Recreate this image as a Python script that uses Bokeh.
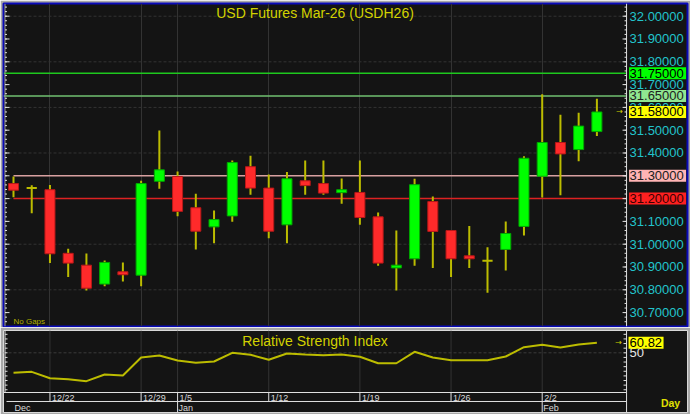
import numpy as np
from bokeh.plotting import figure
from bokeh.models import Range1d, FixedTicker, Label
from bokeh.layouts import column
from bokeh.embed import file_html
from bokeh.resources import INLINE
from bokeh.core.properties import value

# ---------------- data ----------------
chart_title = "USD Futures Mar-26 (USDH26)"
rsi_title = "Relative Strength Index"

opens = [31.266, 31.246, 31.239, 30.960, 30.908, 30.825, 30.879, 30.864, 31.276, 31.297,
         31.160, 31.076, 31.124, 31.340, 31.246, 31.085, 31.278, 31.266, 31.226, 31.227,
         31.120, 30.896, 30.936, 31.187, 31.060, 30.949, 30.927, 30.977, 31.078, 31.298,
         31.446, 31.415, 31.494]
highs = [31.297, 31.259, 31.260, 30.980, 30.959, 30.929, 30.920, 31.278, 31.499, 31.319,
         31.221, 31.148, 31.367, 31.388, 31.306, 31.317, 31.367, 31.367, 31.288, 31.367,
         31.139, 31.060, 31.287, 31.209, 31.060, 31.080, 30.987, 31.100, 31.386, 31.658,
         31.568, 31.577, 31.638]
lows = [31.206, 31.136, 30.917, 30.856, 30.797, 30.816, 30.836, 30.816, 31.243, 31.123,
        30.977, 31.004, 31.098, 31.217, 31.026, 31.004, 31.217, 31.217, 31.177, 31.085,
        30.905, 30.797, 30.905, 30.896, 30.856, 30.896, 30.787, 30.885, 31.038, 31.205,
        31.215, 31.364, 31.475]
closes = [31.237, 31.246, 30.958, 30.917, 30.807, 30.920, 30.866, 31.266, 31.326, 31.144,
          31.057, 31.108, 31.358, 31.246, 31.057, 31.287, 31.257, 31.224, 31.239, 31.117,
          30.917, 30.908, 31.261, 31.056, 30.936, 30.936, 30.927, 31.047, 31.377, 31.446,
          31.396, 31.518, 31.580]
rsi = [28.4, 29.4, 22.5, 21.4, 19.3, 26.5, 25.4, 44.9, 47.1, 41.7, 39.2, 40.6, 50.0,
       47.8, 42.4, 49.2, 48.2, 47.4, 48.2, 45.7, 38.7, 38.7, 51.1, 44.9, 42.0, 42.0,
       42.0, 46.0, 56.1, 58.7, 55.7, 59.0, 60.82]

week_labels = ["12/22", "12/29", "1/5", "1/12", "1/19", "1/26", "2/2"]
week_pos = [2, 7, 9, 14, 19, 24, 29]
month_labels = ["Dec", "Jan", "Feb"]
month_pos = [0, 9, 29]

level_prices = [31.75, 31.65, 31.30, 31.20]
level_from = [None, None, 0, 0]

rsi_major = [50]
rsi_minor_step = 5
price_major_step = 0.1
price_minor_step = 0.02
price_grid_step = 0.2

# ---------------- style / layout ----------------
FONT = "Liberation Sans"
BG = "#141414"
EDGE = "#a8a8a8"
BLUE = "#0a0ab8"
WICK = "#bcbc00"
UP, UP_EDGE = "#00ff00", "#00a800"
DN, DN_EDGE = "#ff2a2a", "#b81818"
YEL = "#d2d200"
CYAN = "#22c4cc"
TICK = "#e0e0e0"
GRID = "#333333"
level_line_col = ["#1ec81e", "#70c070", "#d8a0a0", "#dd2222"]
level_box_col = ["#00ff00", "#90e690", "#ffb4b4", "#ff2020"]
level_txt_col = ["#000000", "#202020", "#202020", "#3a0000"]

W, H_MAIN, H_RSI = 690, 327, 87
FRAME_W = W - 3 - 3
X0, XF = -0.5486, 36.97           # data x at frame left / right
X1 = 33.627                       # data x of the price axis line
PPX = FRAME_W / (XF - X0)         # pixels per candle slot


def dx(px):
    return px / PPX


P0, P1 = 30.639, 32.0557
R0, R1 = -14.61, 74.13
RSI_FLOOR, ROW_SPLIT = 7.03, -2.7
WEEK_TXT_Y, MONTH_TXT_Y, DAY_Y, RSI_TITLE_Y = 1.6, -9.3, -3.8, 63.3

o = np.array(opens); h = np.array(highs); l = np.array(lows); c = np.array(closes)
idx = np.arange(len(c))
up = c > o
dn = c < o
dj = c == o

xr = Range1d(X0, XF)

# ---------------- main price panel ----------------
p = figure(width=W, height=H_MAIN, x_range=xr, y_range=Range1d(P0, P1),
           output_backend="svg", toolbar_location=None,
           x_axis_location=None, y_axis_location=None,
           min_border_left=3, min_border_right=3, min_border_top=3, min_border_bottom=1,
           background_fill_color=BG, border_fill_color=EDGE,
           outline_line_color=BLUE, outline_line_width=2)
p.xgrid.ticker = FixedTicker(ticks=week_pos)
p.xgrid.grid_line_color = GRID
p.ygrid.visible = False

ticks_major = np.round(np.arange(30.7, 32.0001, price_major_step), 2)
ticks_minor = np.round(np.arange(30.66, 32.05, price_minor_step), 2)
grid_y = np.round(np.arange(30.8, 32.0001, price_grid_step), 2)

p.segment(x0=X0, y0=grid_y, x1=X1, y1=grid_y, line_color=GRID, line_dash="3 2")

# level lines
for pr, start, col in zip(level_prices, level_from, level_line_col):
    x_start = X0 if start is None else start
    p.segment(x0=[x_start], y0=[pr], x1=[X1], y1=[pr], line_color=col, line_width=1.5)

# candles
p.segment(x0=idx, y0=h, x1=idx, y1=l, line_color=WICK, line_width=2)
p.vbar(x=idx[up], width=0.55, top=c[up], bottom=o[up], fill_color=UP, line_color=UP_EDGE)
p.vbar(x=idx[dn], width=0.55, top=o[dn], bottom=c[dn], fill_color=DN, line_color=DN_EDGE)
p.segment(x0=idx[dj] - 0.28, y0=o[dj], x1=idx[dj] + 0.28, y1=o[dj], line_color=WICK, line_width=2)

# axes drawn inside the frame (left ticks, right ticks + labels)
p.segment(x0=X0 + dx(1.5), y0=P0, x1=X0 + dx(1.5), y1=P1, line_color="#9a9a9a")
p.segment(x0=X0 + dx(1.5), y0=ticks_minor, x1=X0 + dx(3.5), y1=ticks_minor, line_color=TICK)
p.segment(x0=X0 + dx(1.5), y0=ticks_major, x1=X0 + dx(6), y1=ticks_major, line_color=TICK)
p.segment(x0=X1, y0=P0, x1=X1, y1=P1, line_color=TICK)
p.segment(x0=X1 - dx(2), y0=ticks_minor, x1=X1, y1=ticks_minor, line_color=TICK)
p.segment(x0=X1 - dx(4), y0=ticks_major, x1=X1, y1=ticks_major, line_color=TICK)
p.text(x=X1, y=ticks_major, text=[f"{t:.5f}" for t in ticks_major], x_offset=3,
       text_align="left", text_baseline="middle", text_font=value(FONT),
       text_font_size=value("13px"), text_color=CYAN)

# coloured price boxes
box_prices = level_prices + [closes[-1]]
box_cols = level_box_col + ["#ffff00"]
box_txt = level_txt_col + ["#000000"]
p.rect(x=X1 + dx(31), y=box_prices, width=57, height=12, width_units="screen",
       height_units="screen", fill_color=box_cols, line_color=None)
p.text(x=X1, y=box_prices, text=[f"{v:.5f}" for v in box_prices], x_offset=3,
       text_align="left", text_baseline="middle", text_font=value(FONT),
       text_font_size=value("13px"), text_color=box_txt)
p.text(x=X1 - dx(7), y=[closes[-1]], text=["\u2192"], text_align="center",
       text_baseline="middle", text_font=value("DejaVu Sans"), text_font_size=value("8px"),
       text_color=YEL)

p.add_layout(Label(x=(X0 + X1) / 2, y=32.016, text=chart_title,
                   text_align="center", text_baseline="middle", text_font=FONT,
                   text_font_size="14px", text_color=YEL))
p.add_layout(Label(x=X0 + dx(10), y=P0 + 0.004, text="No Gaps", text_align="left",
                   text_baseline="bottom", text_font=FONT, text_font_size="8px",
                   text_color="#b0b000"))

# ---------------- RSI panel ----------------
q = figure(width=W, height=H_RSI, x_range=xr, y_range=Range1d(R0, R1),
           output_backend="svg", toolbar_location=None,
           x_axis_location=None, y_axis_location=None,
           min_border_left=3, min_border_right=3, min_border_top=3, min_border_bottom=2,
           background_fill_color=BG, border_fill_color=EDGE,
           outline_line_color="#d8d8d8", outline_line_width=1)
q.xgrid.visible = False
q.ygrid.visible = False

rsi_minor = np.arange(10, 71, rsi_minor_step)

q.segment(x0=week_pos, y0=RSI_FLOOR, x1=week_pos, y1=R1, line_color=GRID)
q.segment(x0=[X0], y0=rsi_major, x1=[X1], y1=rsi_major, line_color="#3a3a3a", line_dash="3 2")

q.line(idx, rsi, line_color=WICK, line_width=2)

# RSI axes
q.segment(x0=X0 + dx(1.5), y0=RSI_FLOOR, x1=X0 + dx(1.5), y1=R1, line_color=TICK)
q.segment(x0=X0 + dx(1.5), y0=rsi_minor, x1=X0 + dx(4), y1=rsi_minor, line_color=TICK)
q.segment(x0=X1, y0=R0, x1=X1, y1=R1, line_color=TICK)
q.segment(x0=X1 - dx(3), y0=rsi_minor, x1=X1, y1=rsi_minor, line_color=TICK)
q.text(x=X1, y=rsi_major, text=[str(v) for v in rsi_major], x_offset=3, text_align="left",
       text_baseline="middle", text_font=value(FONT), text_font_size=value("13px"),
       text_color="#e8e8e8")
q.rect(x=X1 + dx(19.5), y=[rsi[-1]], width=35, height=12, width_units="screen",
       height_units="screen", fill_color="#ffff00", line_color=None)
q.text(x=X1, y=[rsi[-1]], text=[f"{rsi[-1]:.2f}"], x_offset=3, text_align="left",
       text_baseline="middle", text_font=value(FONT), text_font_size=value("13px"),
       text_color="#000000")
q.text(x=X1 - dx(8), y=[rsi[-1]], text=["\u2192"], text_align="center",
       text_baseline="middle", text_font=value("DejaVu Sans"), text_font_size=value("8px"),
       text_color=YEL)

q.add_layout(Label(x=(X0 + X1) / 2, y=RSI_TITLE_Y, text=rsi_title, text_align="center",
                   text_baseline="middle", text_font=FONT, text_font_size="14px",
                   text_color=YEL))

# date axis rows
q.segment(x0=[X0], y0=[RSI_FLOOR], x1=[X1], y1=[RSI_FLOOR], line_color=TICK)
q.segment(x0=[X0 + dx(3)], y0=[ROW_SPLIT], x1=[X1], y1=[ROW_SPLIT], line_color=TICK)
q.segment(x0=week_pos, y0=RSI_FLOOR, x1=week_pos, y1=ROW_SPLIT, line_color=TICK)
q.segment(x0=month_pos[1:], y0=ROW_SPLIT, x1=month_pos[1:], y1=R0, line_color=TICK)
q.text(x=week_pos, y=WEEK_TXT_Y, text=week_labels, x_offset=2, text_align="left",
       text_baseline="middle", text_font=value(FONT), text_font_size=value("9px"),
       text_color="#d8d8d8")
q.text(x=month_pos, y=MONTH_TXT_Y, text=month_labels, x_offset=1, text_align="left",
       text_baseline="middle", text_font=value(FONT), text_font_size=value("9px"),
       text_color="#d8d8d8")
q.text(x=X1 + dx(44), y=[DAY_Y], text=["Day"], text_align="center",
       text_baseline="middle", text_font=value(FONT), text_font_size=value("10.5px"),
       text_font_style="bold", text_color="#e0e000")

layout = column(p, q, spacing=0)

open("out.html", "w").write(file_html(layout, INLINE))
